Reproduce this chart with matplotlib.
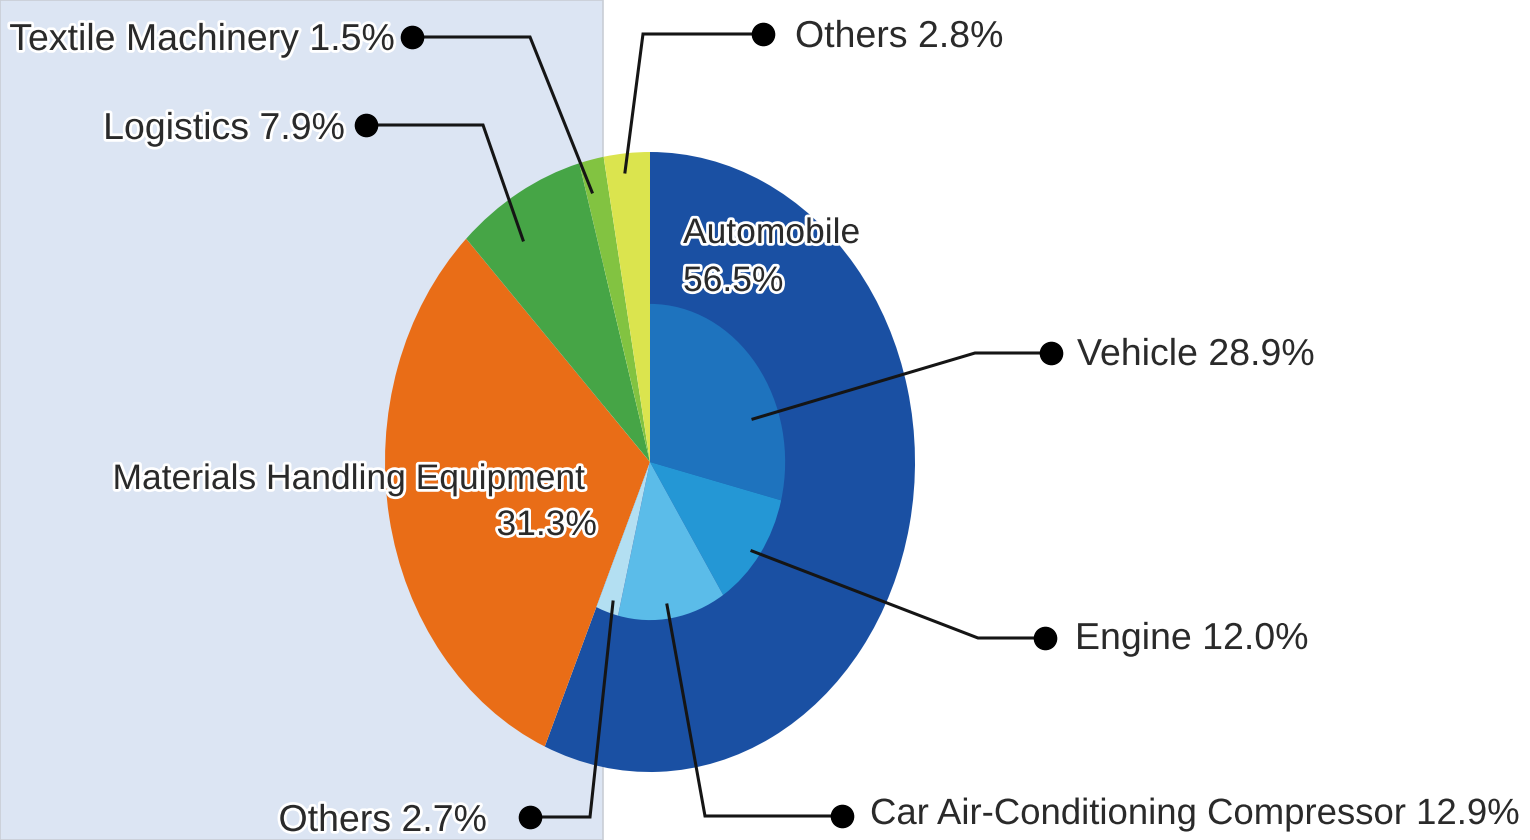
"""Sales breakdown by segment, two-level pie with leader-line labels."""
import matplotlib
matplotlib.use("Agg")
import matplotlib.pyplot as plt
import matplotlib.patheffects as pe
from matplotlib import font_manager
from matplotlib.patches import Rectangle

# data
outer_labels = ["Automobile", "Materials Handling Equipment", "Logistics",
                "Textile Machinery", "Others"]
outer_shares = [56.5, 31.3, 7.9, 1.5, 2.8]
outer_colors = ["#1a50a3", "#e96d17", "#46a546", "#82c341", "#dbe44e"]

inner_labels = ["Vehicle", "Engine", "Car Air-Conditioning Compressor", "Others"]
inner_shares = [28.9, 12.0, 12.9, 2.7]
inner_colors = ["#1e73be", "#2497d5", "#5bbce9", "#b3dff2"]

W, H = 1530, 840
installed = {f.name for f in font_manager.fontManager.ttflist}
if "Liberation Sans Narrow" in installed:
    FAMILY, FS = ["Liberation Sans Narrow", "DejaVu Sans"], 31
else:
    FAMILY, FS = ["Liberation Sans", "DejaVu Sans"], 27
TXT = "#2a2a2a"
halo = [pe.withStroke(linewidth=4, foreground="white")]


def px_axes(fig, zorder):
    ax = fig.add_axes([0, 0, 1, 1], zorder=zorder)
    ax.set_xlim(0, W)
    ax.set_ylim(H, 0)
    ax.axis("off")
    ax.patch.set_alpha(0)
    return ax


fig = plt.figure(figsize=(W / 100, H / 100), dpi=100)
fig.patch.set_facecolor("white")

bg = px_axes(fig, 0)
bg.add_patch(Rectangle((0, 0), 603, H, facecolor="#dce5f3",
                       edgecolor="#c9ced6", linewidth=1.2))

# pie is stretched vertically, as in the source picture
cx, cy, rx, ry = 650, 462, 265, 310
ax_pie = fig.add_axes([(cx - rx) / W, (H - cy - ry) / H, 2 * rx / W, 2 * ry / H],
                      zorder=1)
ax_pie.pie(outer_shares, colors=outer_colors, startangle=90, counterclock=False,
           radius=1, wedgeprops=dict(linewidth=0))
ax_pie.pie(inner_shares + [100 - sum(inner_shares)],
           colors=inner_colors + ["none"], startangle=90, counterclock=False,
           radius=0.51, wedgeprops=dict(linewidth=0))
ax_pie.set_aspect("auto")
ax_pie.set_xlim(-1, 1)
ax_pie.set_ylim(-1, 1)
ax_pie.axis("off")

ov = px_axes(fig, 2)

# leader lines: (pie point, elbow, dot), label anchor, alignment, size
leaders = [
    ("Textile Machinery", 1.5, [(592, 192), (530, 37), (412, 37)], (395, 50), "right", FS),
    ("Logistics", 7.9, [(523, 240), (483, 125), (366, 125)], (345, 139), "right", FS),
    ("Others", 2.8, [(625, 172), (643, 34), (763, 34)], (795, 47), "left", FS),
    ("Vehicle", 28.9, [(753, 419), (975, 353), (1051, 353)], (1077, 365), "left", FS),
    ("Engine", 12.0, [(752, 551), (978, 638), (1045, 638)], (1075, 649), "left", FS),
    ("Car Air-Conditioning Compressor", 12.9, [(667, 605), (705, 816), (842, 816)],
     (870, 824), "left", FS - 0.7),
    ("Others", 2.7, [(613, 602), (590, 817), (530, 817)], (487, 831), "right", FS),
]
for name, share, pts, (tx, ty), ha, size in leaders:
    xs, ys = zip(*pts)
    ov.plot(xs, ys, color="#151515", linewidth=2.2, solid_joinstyle="miter")
    ov.plot(xs[-1], ys[-1], "o", color="black", markersize=16)
    ov.text(tx, ty, f"{name} {share:.1f}%", ha=ha, va="baseline", fontsize=size,
            family=FAMILY, color=TXT, path_effects=halo)

# labels inside the pie
IFS = FS - 1.5
ov.text(683, 243, outer_labels[0], ha="left", va="baseline", fontsize=IFS,
        family=FAMILY, color=TXT, path_effects=halo)
ov.text(683, 291, f"{outer_shares[0]}%", ha="left", va="baseline", fontsize=IFS,
        family=FAMILY, color=TXT, path_effects=halo)
ov.text(585, 489, outer_labels[1], ha="right", va="baseline", fontsize=IFS,
        family=FAMILY, color=TXT, path_effects=halo)
ov.text(597, 535, f"{outer_shares[1]}%", ha="right", va="baseline", fontsize=IFS,
        family=FAMILY, color=TXT, path_effects=halo)

fig.savefig("out.png", dpi=100)
plt.close(fig)
